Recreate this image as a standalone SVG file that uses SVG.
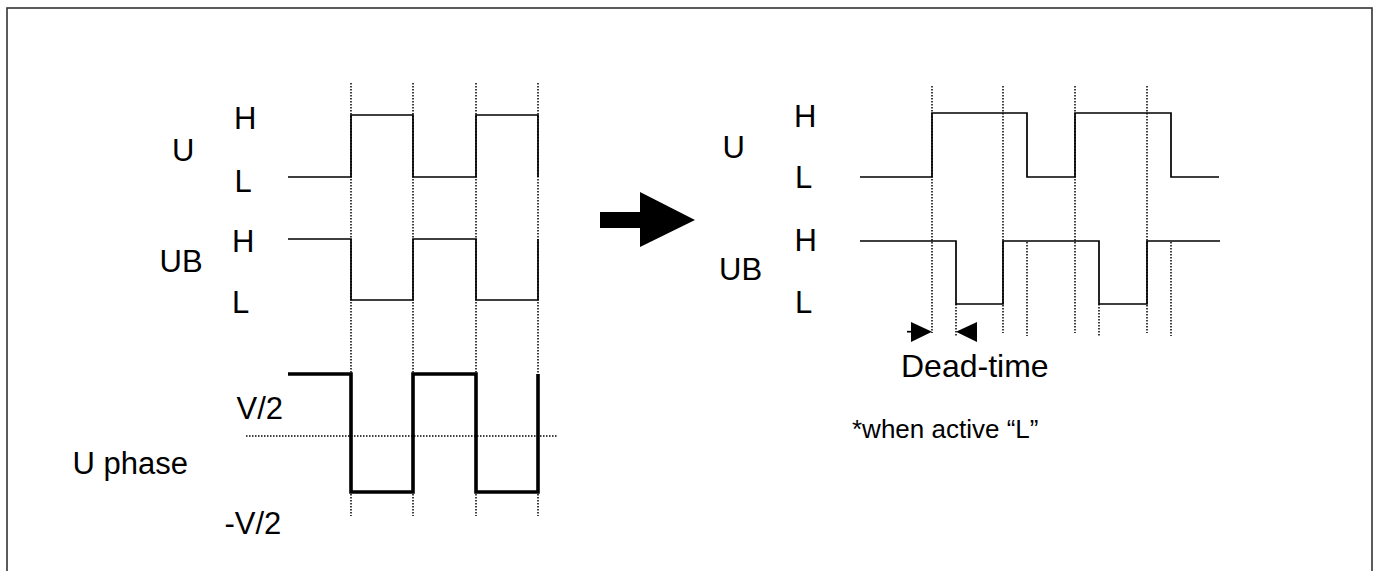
<svg xmlns="http://www.w3.org/2000/svg" width="1377" height="571" viewBox="0 0 1377 571">
<style>
.sig{fill:none;stroke:#000;stroke-width:1.7}
.thick{fill:none;stroke:#000;stroke-width:3.6}
.dot{fill:none;stroke:#000;stroke-width:1.5;stroke-dasharray:1.5 1.5}
.lbl{font-family:"Liberation Sans",Arial,sans-serif;font-size:31px;fill:#000}
.dt{font-family:"Liberation Sans",Arial,sans-serif;font-size:32px;fill:#000}
.note{font-family:"Liberation Sans",Arial,sans-serif;font-size:26px;fill:#000}
</style>
<rect x="7" y="8" width="1365" height="600" fill="#fff" stroke="#333" stroke-width="1.6"/>
<g id="connectors">
<g id="left-dotted">
<path class="dot" d="M351,83V516M413,83V516M476,83V516M538,83V516"/>
<path class="dot" d="M246,436H557"/>
</g>
<g id="right-dotted">
<path class="dot" d="M932,86V333M1003,86V333M1075,86V333M1147,86V333"/>
<path class="dot" d="M956,304V336M1099,304V336M1027,242V336M1171,242V336"/>
</g>
</g>
<g id="left-U"><path class="sig" d="M288,177H351V115H413V177H476V115H538V177"/></g>
<g id="left-UB"><path class="sig" d="M288,239H351V300H413V239H476V300H538V239"/></g>
<g id="left-Uphase"><path class="thick" d="M288,374H351V492H413V374H476V492H538V374"/></g>
<g id="right-U"><path class="sig" d="M860,177H932V113H1027V177H1075V113H1171V177H1219"/></g>
<g id="right-UB"><path class="sig" d="M860,241H956V304H1003V241H1099V304H1147V241H1220"/></g>
<g id="big-arrow">
<rect x="600" y="212" width="41" height="16" fill="#000"/>
<polygon points="640,192 695,220 640,247" fill="#000"/>
</g>
<g id="deadtime-arrows">
<path class="sig" d="M907,331.7H913"/>
<polygon points="911,322 932,331.7 911,342" fill="#000"/>
<polygon points="977,322 956,331.7 977,342" fill="#000"/>
</g>
<g id="left-labels">
<text class="lbl" x="172" y="161">U</text>
<text class="lbl" x="234" y="129">H</text>
<text class="lbl" x="234.5" y="192">L</text>
<text class="lbl" x="232" y="252">H</text>
<text class="lbl" x="159.5" y="272">UB</text>
<text class="lbl" x="232" y="313">L</text>
<text class="lbl" x="236.5" y="419">V/2</text>
<text class="lbl" x="72.5" y="474">U phase</text>
<text class="lbl" x="224.5" y="534">-V/2</text>
</g>
<g id="right-labels">
<text class="lbl" x="722.5" y="158">U</text>
<text class="lbl" x="794" y="127">H</text>
<text class="lbl" x="795" y="188">L</text>
<text class="lbl" x="794.5" y="251">H</text>
<text class="lbl" x="719" y="280">UB</text>
<text class="lbl" x="795" y="313">L</text>
<text class="dt" x="901" y="377">Dead-time</text>
<text class="note" x="852" y="438">*when active “L”</text>
</g>
</svg>
